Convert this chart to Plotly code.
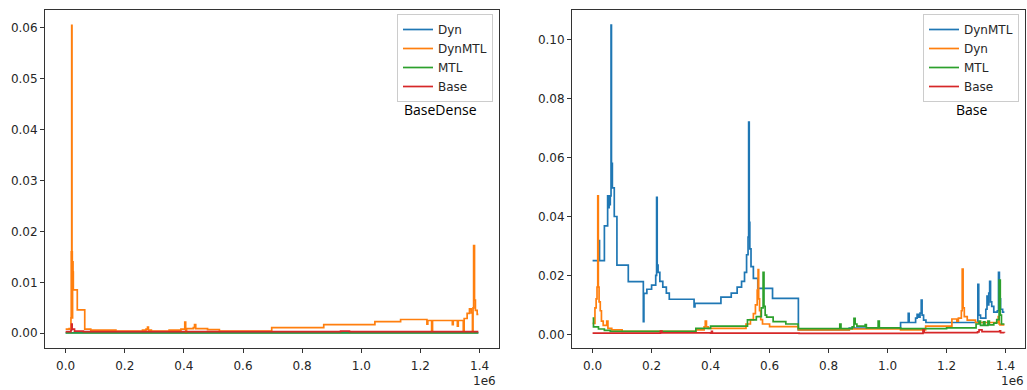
import plotly.graph_objects as go

# ---- data (x in millions of steps) ----
TAB_BLUE, TAB_ORANGE, TAB_GREEN, TAB_RED = "#1f77b4", "#ff7f0e", "#2ca02c", "#d62728"

X_TICKS = [0.0, 0.2, 0.4, 0.6, 0.8, 1.0, 1.2, 1.4]
X_TICK_LABELS = ["0.0", "0.2", "0.4", "0.6", "0.8", "1.0", "1.2", "1.4"]
Y_TICKS_LEFT = [0.00, 0.01, 0.02, 0.03, 0.04, 0.05, 0.06]
Y_TICKS_RIGHT = [0.00, 0.02, 0.04, 0.06, 0.08, 0.10]

# Left panel: BaseDense
L_DYN_X = [0.0, 1.396]
L_DYN_Y = [0.0001, 0.0001]

L_DYNMTL_X = [0.0, 0.012, 0.018, 0.019, 0.0205, 0.0215, 0.0225, 0.0235, 0.025, 0.026,
              0.0394, 0.0646, 0.085, 0.17, 0.26, 0.272, 0.277, 0.28, 0.29, 0.35,
              0.39, 0.403, 0.406, 0.409, 0.432, 0.436, 0.44, 0.48, 0.52, 0.697,
              0.873, 1.046, 1.133, 1.222, 1.225, 1.238, 1.241, 1.308, 1.311, 1.325,
              1.328, 1.345, 1.348, 1.358, 1.366, 1.372, 1.376, 1.378, 1.380, 1.383,
              1.386, 1.392, 1.396]
L_DYNMTL_Y = [0.0008, 0.0009, 0.003, 0.016, 0.0605, 0.016, 0.003, 0.014, 0.012, 0.0085,
              0.0046, 0.0008, 0.0006, 0.0004, 0.0006, 0.0008, 0.0012, 0.0006, 0.0004, 0.0006,
              0.0008, 0.0022, 0.0001, 0.0009, 0.0011, 0.0017, 0.0009, 0.0007, 0.0004, 0.0011,
              0.0017, 0.0023, 0.0027, 0.0018, 0.0025, 0.0003, 0.0025, 0.0017, 0.0025, 0.0014,
              0.0025, 0.0003, 0.0029, 0.0039, 0.0048, 0.0040, 0.0002, 0.0050, 0.0172, 0.0065,
              0.0045, 0.0037, 0.0037]

L_MTL_X = [0.0, 1.396]
L_MTL_Y = [0.00005, 0.00005]

L_BASE_X = [0.0, 0.018, 0.02, 0.022, 0.03, 0.06, 0.93, 0.96, 1.396]
L_BASE_Y = [0.0003, 0.0006, 0.0018, 0.0008, 0.0004, 0.0003, 0.0004, 0.0003, 0.0003]

# Right panel: Base
R_DYNMTL_X = [0.0, 0.021, 0.0235, 0.040, 0.051, 0.054, 0.056, 0.058, 0.060, 0.0625,
              0.064, 0.067, 0.0735, 0.0825, 0.121, 0.172, 0.174, 0.184, 0.200, 0.214,
              0.217, 0.219, 0.222, 0.228, 0.238, 0.25, 0.26, 0.344, 0.347, 0.435,
              0.47, 0.49, 0.505, 0.515, 0.522, 0.527, 0.529, 0.531, 0.533, 0.537,
              0.545, 0.56, 0.61, 0.6976, 0.87, 1.044, 1.07, 1.073, 1.095, 1.10,
              1.105, 1.11, 1.114, 1.117, 1.122, 1.13, 1.306, 1.309, 1.315, 1.333,
              1.337, 1.34, 1.343, 1.346, 1.349, 1.353, 1.36, 1.372, 1.376, 1.379,
              1.383, 1.39, 1.396]
R_DYNMTL_Y = [0.025, 0.0318, 0.025, 0.0368, 0.047, 0.043, 0.047, 0.044, 0.047, 0.105,
              0.058, 0.0497, 0.040, 0.0235, 0.0179, 0.0043, 0.0139, 0.0153, 0.0167, 0.020,
              0.0465, 0.0235, 0.021, 0.018, 0.016, 0.014, 0.0119, 0.0093, 0.0105, 0.0126,
              0.014, 0.016, 0.018, 0.021, 0.027, 0.033, 0.072, 0.038, 0.029, 0.023,
              0.019, 0.0156, 0.0122, 0.0015, 0.0021, 0.0040, 0.0071, 0.0040, 0.0055, 0.0068,
              0.0058, 0.0072, 0.0116, 0.0065, 0.0048, 0.0040, 0.017, 0.0065, 0.0055, 0.0085,
              0.013, 0.010, 0.014, 0.018, 0.011, 0.0095, 0.0075, 0.008, 0.021, 0.012,
              0.0085, 0.0075, 0.0075]

R_DYN_X = [0.0, 0.008, 0.012, 0.015, 0.0175, 0.0195, 0.022, 0.026, 0.03, 0.036,
           0.048, 0.052, 0.065, 0.1, 0.35, 0.378, 0.382, 0.386, 0.392, 0.52,
           0.535, 0.545, 0.552, 0.558, 0.561, 0.563, 0.566, 0.57, 0.576, 0.60,
           0.6976, 0.87, 1.044, 1.129, 1.218, 1.235, 1.24, 1.25, 1.253, 1.256,
           1.26, 1.27, 1.298, 1.375, 1.378, 1.381, 1.396]
R_DYN_Y = [0.0037, 0.009, 0.012, 0.016, 0.047, 0.016, 0.011, 0.008, 0.0045, 0.003,
           0.0045, 0.002, 0.0015, 0.001, 0.0015, 0.0025, 0.0045, 0.0025, 0.002, 0.0035,
           0.005, 0.007, 0.01, 0.015, 0.022, 0.012, 0.008, 0.005, 0.0035, 0.0026,
           0.0015, 0.0018, 0.0015, 0.0028, 0.0052, 0.0045, 0.0055, 0.008, 0.0221, 0.009,
           0.006, 0.0048, 0.0040, 0.006, 0.0035, 0.0032, 0.0032]

R_MTL_X = [0.0, 0.003, 0.02, 0.04, 0.06, 0.35, 0.40, 0.525, 0.555, 0.572,
           0.578, 0.581, 0.585, 0.59, 0.612, 0.655, 0.697, 0.838, 0.842, 0.88,
           0.886, 0.89, 0.896, 0.924, 0.928, 0.968, 0.972, 1.044, 1.2, 1.3,
           1.31, 1.315, 1.325, 1.33, 1.34, 1.345, 1.36, 1.37, 1.378, 1.382,
           1.386, 1.396]
R_MTL_Y = [0.0055, 0.0025, 0.0018, 0.0013, 0.001, 0.002, 0.0028, 0.0049, 0.006, 0.009,
           0.021, 0.0095, 0.0065, 0.0058, 0.0043, 0.0035, 0.0019, 0.0035, 0.0019, 0.0025,
           0.0054, 0.0035, 0.0028, 0.0033, 0.0022, 0.0045, 0.0022, 0.0019, 0.0022, 0.0035,
           0.0045, 0.003, 0.0042, 0.003, 0.0045, 0.0032, 0.0038, 0.005, 0.0184, 0.0065,
           0.0035, 0.0035]

R_BASE_X = [0.0, 0.225, 0.23, 0.235, 0.40, 0.403, 0.406, 0.7, 1.12, 1.124,
            1.305, 1.31, 1.32, 1.38, 1.383, 1.396]
R_BASE_Y = [0.0004, 0.0004, 0.0011, 0.0005, 0.0004, 0.001, 0.0004, 0.0003, 0.0015, 0.0006,
            0.0008, 0.0015, 0.0009, 0.0012, 0.0006, 0.0005]

SCALE = 1e6
LINE_W = 1.7

fig = go.Figure()


def add(xs, ys, name, color, xa, ya, legend):
    fig.add_trace(go.Scatter(
        x=[v * SCALE for v in xs], y=ys, name=name, mode="lines",
        line=dict(color=color, width=LINE_W, shape="hv"),
        xaxis=xa, yaxis=ya, legend=legend,
    ))


add(L_DYN_X, L_DYN_Y, "Dyn", TAB_BLUE, "x", "y", "legend")
add(L_DYNMTL_X, L_DYNMTL_Y, "DynMTL", TAB_ORANGE, "x", "y", "legend")
add(L_MTL_X, L_MTL_Y, "MTL", TAB_GREEN, "x", "y", "legend")
add(L_BASE_X, L_BASE_Y, "Base", TAB_RED, "x", "y", "legend")

add(R_DYNMTL_X, R_DYNMTL_Y, "DynMTL", TAB_BLUE, "x2", "y2", "legend2")
add(R_DYN_X, R_DYN_Y, "Dyn", TAB_ORANGE, "x2", "y2", "legend2")
add(R_MTL_X, R_MTL_Y, "MTL", TAB_GREEN, "x2", "y2", "legend2")
add(R_BASE_X, R_BASE_Y, "Base", TAB_RED, "x2", "y2", "legend2")

W, H = 1027, 390
TEXT = "#262626"
FONT = "DejaVu Sans"


def xaxis(domain, anchor):
    return dict(
        domain=domain, anchor=anchor, range=[-0.0698e6, 1.4658e6],
        tickvals=[v * SCALE for v in X_TICKS], ticktext=X_TICK_LABELS,
        ticks="outside", ticklen=4, tickwidth=1, tickcolor="#333",
        ticklabelstandoff=3,
        showline=True, linecolor="#333", linewidth=1, mirror=True,
        showgrid=False, zeroline=False,
        tickfont=dict(family=FONT, size=12, color=TEXT),
    )


def yaxis(domain, anchor, rng, ticks):
    return dict(
        domain=domain, anchor=anchor, range=rng,
        tickvals=ticks, ticktext=[f"{t:.2f}" for t in ticks],
        ticks="outside", ticklen=4, tickwidth=1, tickcolor="#333",
        showline=True, linecolor="#333", linewidth=1, mirror=True,
        showgrid=False, zeroline=False,
        tickfont=dict(family=FONT, size=12, color=TEXT),
    )


y_dom = [1 - 348 / H, 1 - 10 / H]

legend_style = dict(
    xanchor="right", yanchor="top", y=1 - 14 / H,
    bgcolor="rgba(255,255,255,0.85)", bordercolor="#cccccc", borderwidth=1,
    font=dict(family=FONT, size=12, color=TEXT), tracegroupgap=0,
    itemwidth=30,
)

label_font = dict(family="Open Sans", size=14, color="black")
small_font = dict(family=FONT, size=12, color=TEXT)

fig.update_layout(
    width=W, height=H,
    margin=dict(l=0, r=0, t=0, b=0),
    paper_bgcolor="white", plot_bgcolor="white",
    showlegend=True,
    xaxis=xaxis([45 / W, 499 / W], "y"),
    yaxis=yaxis(y_dom, "x", [-0.0029, 0.0635], Y_TICKS_LEFT),
    xaxis2=xaxis([572 / W, 1025 / W], "y2"),
    yaxis2=yaxis(y_dom, "x2", [-0.00465, 0.1101], Y_TICKS_RIGHT),
    legend=dict(x=493 / W, **legend_style),
    legend2=dict(x=1019 / W, **legend_style),
    annotations=[
        dict(text="BaseDense", x=440 / W, y=1 - 109 / H, xref="paper", yref="paper",
             xanchor="center", yanchor="middle", showarrow=False, font=label_font),
        dict(text="Base", x=971 / W, y=1 - 109 / H, xref="paper", yref="paper",
             xanchor="center", yanchor="middle", showarrow=False, font=label_font),
        dict(text="1e6", x=498 / W, y=1 - 381 / H, xref="paper", yref="paper",
             xanchor="right", yanchor="middle", showarrow=False, font=small_font),
        dict(text="1e6", x=1026 / W, y=1 - 381 / H, xref="paper", yref="paper",
             xanchor="right", yanchor="middle", showarrow=False, font=small_font),
    ],
)

fig.write_html("out.html")
